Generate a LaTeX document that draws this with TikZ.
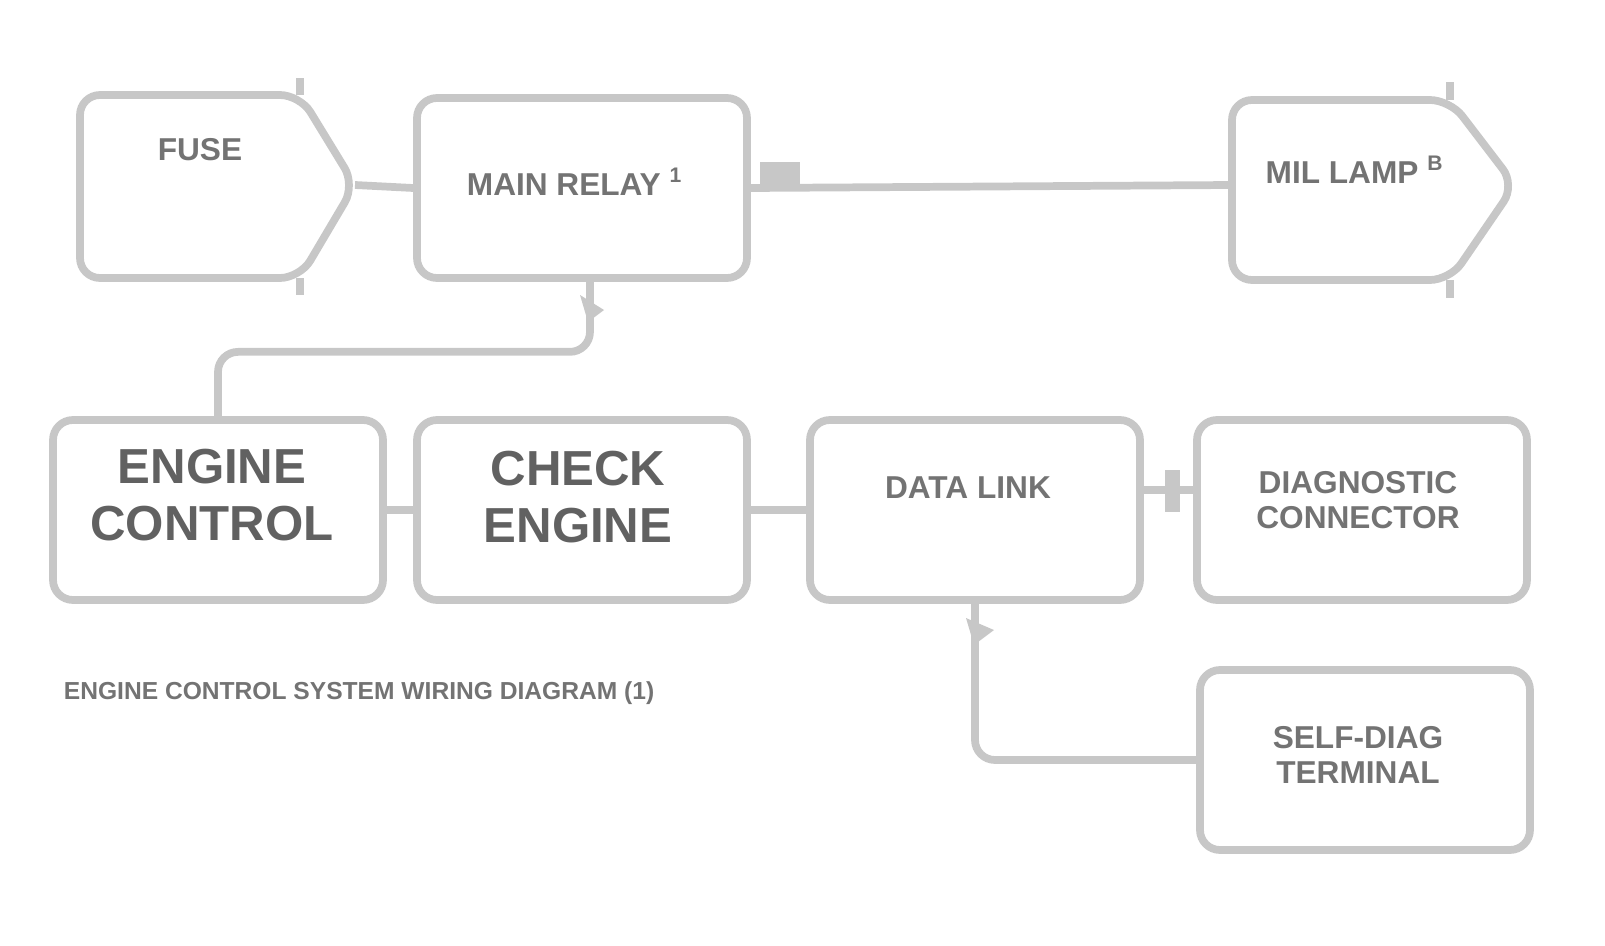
\documentclass[tikz,border=0pt]{standalone}
\usepackage{fontspec}
\setmainfont{Liberation Sans}
\usetikzlibrary{arrows, arrows.meta}
\usetikzlibrary{positioning}

\begin{document}
\begin{tikzpicture}[x=0.1mm,y=-0.1mm,
  line width=2.2pt, draw=black!22, rounded corners=2mm,
  unitbox/.style={draw=black!22, rounded corners=2mm, minimum width=33mm, minimum height=18mm, inner sep=0pt},
  lbl/.style={text=black!55, font=\bfseries\fontsize{9}{10}\selectfont, align=center, inner sep=0pt},
  biglbl/.style={text=black!62, font=\bfseries\fontsize{14}{16}\selectfont, align=center, inner sep=0pt}]
\useasboundingbox (0,0) rectangle (1605,946);
% top row
\draw (80,95) -- (300,95) -- (355,185) -- (300,278) -- (80,278) -- cycle;
\draw [rounded corners=0pt] (300,78) -- (300,95);
\draw [rounded corners=0pt] (300,278) -- (300,295);
\coordinate (plug) at (355,185);
\node [lbl] (fuse) at (200,150) {FUSE};
\node [unitbox] (relay) at (582,188) {};
\node [lbl] (relaytxt) at (575,182) {MAIN RELAY \textsuperscript{1}};
\draw (1232,100) -- (1450,100) -- (1515,185) -- (1450,280) -- (1232,280) -- cycle;
\draw [rounded corners=0pt] (1450,82) -- (1450,100);
\draw [rounded corners=0pt] (1450,280) -- (1450,298);
\coordinate (lamp) at (1232,185);
\node [lbl] (lamptxt) at (1355,170) {MIL LAMP \textsuperscript{B}};
\draw (plug) -- (relay.west);
\draw (relay.east) -- (lamp);
\fill [black!22, rounded corners=0pt] (760,162) rectangle (800,188);
% bottom row
\node [unitbox] (ecu) at (218,510) {};
\node [biglbl] (ecutxt) at (212,495) {ENGINE\\CONTROL};
\node [unitbox] (chk) at (582,510) {};
\node [biglbl] (chktxt) at (578,497) {CHECK\\ENGINE};
\node [unitbox] (dlink) at (975,510) {};
\node [lbl] (dlinktxt) at (968,488) {DATA LINK};
\node [unitbox] (diag) at (1362,510) {};
\node [lbl] (diagtxt) at (1358,500) {DIAGNOSTIC\\CONNECTOR};
\node [unitbox] (term) at (1365,760) {};
\node [lbl] (termtxt) at (1358,755) {SELF-DIAG\\TERMINAL};
\node [lbl, anchor=west, font=\bfseries\fontsize{7}{8}\selectfont] (caption) at (60,693) {ENGINE CONTROL SYSTEM WIRING DIAGRAM (1)};
% connectors
\draw (relay.south) ++(8,0) coordinate (r1) -- ++(0,70) -| (ecu.north);
\fill [black!22, rounded corners=0pt] (580,295) -- (604,310) -- (588,322) -- cycle;
\draw (ecu.east) -- (chk.west);
\draw (chk.east) -- (dlink.west);
\draw (dlink.east |- 0,490) -- (diag.west |- 0,490);
\fill [black!22, rounded corners=0pt] (1165,470) rectangle (1180,512);
\draw (dlink.south) |- (term.west);
\fill [black!22, rounded corners=0pt] (966,618) -- (994,630) -- (974,645) -- cycle;
\end{tikzpicture}
\end{document}
